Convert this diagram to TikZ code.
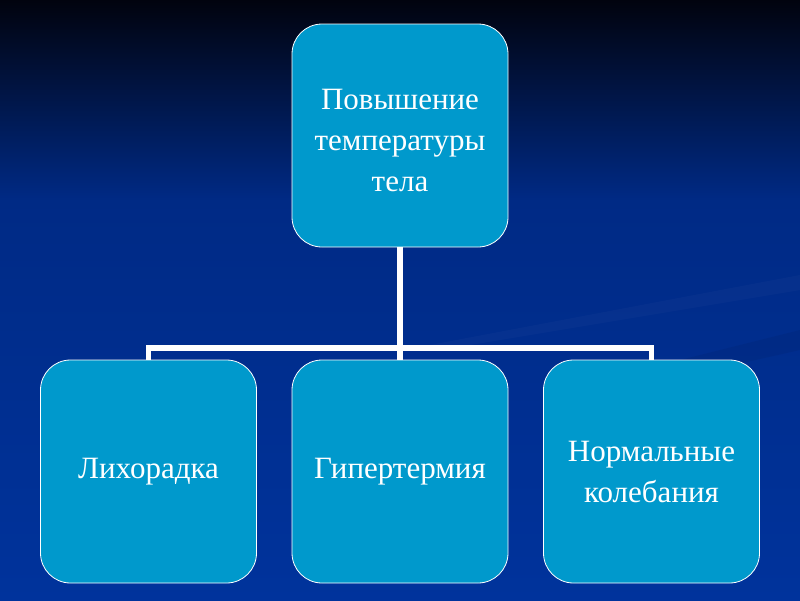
\documentclass[tikz,border=0pt]{standalone}
\usepackage{fontspec}
\setmainfont{Liberation Serif}
\usetikzlibrary{positioning}
\definecolor{bgtop}{HTML}{01030E}
\definecolor{bgmid}{HTML}{002A85}
\definecolor{bgbot}{HTML}{00339C}
\definecolor{boxfill}{HTML}{0099CC}
\tikzset{
  boxtext/.style={text=white, align=center, inner sep=0pt,
    font=\fontsize{31}{41}\selectfont},
  box/.style={boxtext, rectangle, rounded corners=30pt, fill=boxfill, draw=white, line width=0.8pt,
    minimum width=216pt, minimum height=223pt, inner sep=4pt},
  link/.style={draw=white, line width=5.5pt}
}
\begin{document}
\begin{tikzpicture}[x=1pt,y=-1pt]
\useasboundingbox (0,0) rectangle (800,600);
\shade[top color=bgtop, bottom color=bgmid] (0,0) rectangle (800,200);
\shade[top color=bgmid, bottom color=bgbot] (0,200) rectangle (800,600);
% faint diagonal streaks
\fill[white, opacity=0.025] (430,345) -- (800,275) -- (800,290) -- (470,345) -- cycle;
\fill[black, opacity=0.05] (560,390) -- (800,330) -- (800,350) -- (600,395) -- cycle;
\node[box] (top) at (400,135.5) {};
\node[boxtext] (toptext) at (400,140.5) {Повышение\\температуры\\тела};
\node[box] (l) at (148.5,471.5) {Лихорадка};
\node[box] (m) at (400,471.5) {Гипертермия};
\node[box] (r) at (651.5,471.5) {Нормальные\\колебания};
\coordinate (j) at (400,348);
\draw[link] (top.south) -- (j);
\draw[link] (l.north) |- (j) -| (r.north);
\draw[link] (j) -- (m.north);
\end{tikzpicture}
\end{document}
